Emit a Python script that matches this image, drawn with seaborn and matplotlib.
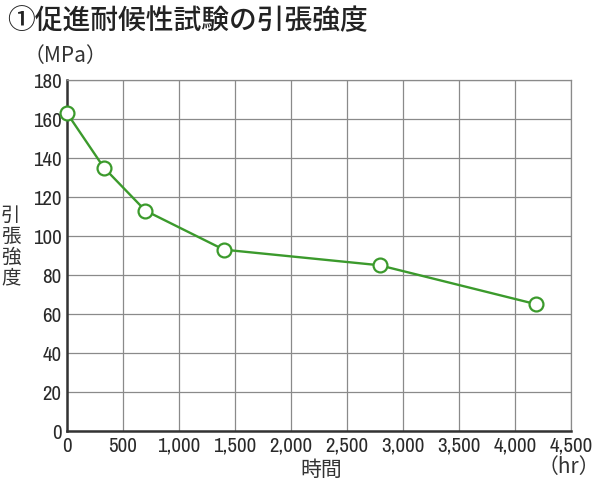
import matplotlib
matplotlib.use("Agg")
import matplotlib.pyplot as plt
from matplotlib import font_manager
import seaborn as sns
import pandas as pd

hours = [0, 330, 700, 1400, 2790, 4190]
strength = [163, 135, 113, 93, 85, 65]
x_ticks = [0, 500, 1000, 1500, 2000, 2500, 3000, 3500, 4000, 4500]
x_tick_labels = ["0", "500", "1,000", "1,500", "2,000", "2,500", "3,000", "3,500", "4,000", "4,500"]
y_ticks = [0, 20, 40, 60, 80, 100, 120, 140, 160, 180]

title = "①促進耐候性試験の引張強度"
y_label = "引\n張\n強\n度"
y_unit = "（MPa）"
x_label = "時間"
x_unit = "（hr）"

GREEN = "#3b9a2c"
GRID = "#8a8a8a"
JP = ["Noto Sans CJK JP", "DejaVu Sans"]

# a narrow face for the numbers, if one is installed
names = sorted({f.name for f in font_manager.fontManager.ttflist})
narrow = [n for n in names if "Narrow" in n or "Condensed" in n]
NUM = narrow[:1] + ["DejaVu Sans"]

sns.set_theme(style="white")
plt.rcParams["font.family"] = JP

df = pd.DataFrame({"hours": hours, "strength": strength})

fig = plt.figure(figsize=(6.0, 4.84), dpi=100)
ax = fig.add_axes([0.1117, 0.1095, 0.84, 0.7252])

ax.set_xlim(0, 4500)
ax.set_ylim(0, 180)
ax.set_xticks(x_ticks)
ax.set_xticklabels(x_tick_labels)
ax.set_yticks(y_ticks)
ax.grid(True, color=GRID, linewidth=0.9)
ax.set_axisbelow(True)

sns.lineplot(data=df, x="hours", y="strength", ax=ax, color=GREEN, linewidth=1.7,
             marker="o", markersize=10, markerfacecolor="white",
             markeredgecolor=GREEN, markeredgewidth=1.6, clip_on=False, zorder=5)

for side in ["top", "right"]:
    ax.spines[side].set_color(GRID)
    ax.spines[side].set_linewidth(0.9)
for side in ["left", "bottom"]:
    ax.spines[side].set_color("#333333")
    ax.spines[side].set_linewidth(1.8)

ax.tick_params(axis="both", length=0, labelsize=15, colors="#2a2a2a", pad=4)
for lab in ax.get_xticklabels() + ax.get_yticklabels():
    lab.set_family(NUM)
    lab.set_stretch("condensed")
ax.set_xlabel("")
ax.set_ylabel("")

fig.text(0.012, 0.988, title, fontsize=20, weight="medium", ha="left", va="top", color="#222222")
fig.text(0.04, 0.885, y_unit, fontsize=15, ha="left", va="center", color="#333333")
fig.text(0.018, 0.49, y_label, fontsize=14, ha="center", va="center",
         color="#333333", linespacing=1.0)
fig.text(0.535, 0.028, x_label, fontsize=15, ha="center", va="center", color="#333333")
fig.text(1.0, 0.035, x_unit, fontsize=15, ha="right", va="center", color="#333333")

fig.savefig("out.png", dpi=100)
